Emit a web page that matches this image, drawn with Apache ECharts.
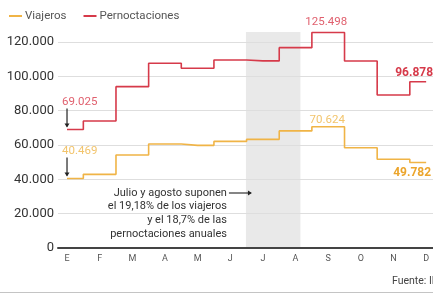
<!DOCTYPE html>
<html>
<head>
<meta charset="utf-8">
<script src="https://cdn.jsdelivr.net/npm/echarts@6/dist/echarts.min.js"></script>
<style>
html,body{margin:0;padding:0;background:#fff;}
#c{width:433px;height:294px;}
</style>
</head>
<body>
<div id="c"></div>
<script>
const months = ['E','F','M','A','M','J','J','A','S','O','N','D'];
const viajeros = [40469, 42900, 54200, 60600, 59800, 62100, 63300, 68200, 70624, 58400, 51700, 49782];
const pernoctaciones = [69025, 74000, 94000, 107600, 104700, 109500, 109000, 116700, 125498, 108900, 89100, 96878];
const yTicks = [0, 20000, 40000, 60000, 80000, 100000, 120000];
const bandStart = 5.48, bandEnd = 7.15, bandTop = 125800;
const annotation = ['Julio y agosto suponen', 'el 19,18% de los viajeros', 'y el 18,7% de las', 'pernoctaciones anuales'];

const RED = '#d63a4a', RED_L = '#e0606e';
const YEL = '#f0b446', YEL_L = '#f2c46c', YEL_B = '#eca52c';
const FONT = 'Roboto, "Open Sans", sans-serif';

function fmt(v){ return String(v).replace(/\B(?=(\d{3})+(?!\d))/g, '.'); }

const chart = echarts.init(document.getElementById('c'), null, {renderer:'canvas'});
const option = {
  animation: false,
  textStyle: {fontFamily: FONT},
  legend: {
    left: 4, top: 5, itemWidth: 13, itemHeight: 2, itemGap: 17, icon: 'rect',
    textStyle: {fontSize: 11.5, color: '#555', fontFamily: FONT, padding: [0,0,0,-2]},
    data: ['Viajeros', 'Pernoctaciones']
  },
  grid: {left: 58, right: 0, top: 42, bottom: 46},
  xAxis: {
    type: 'value', min: -0.276, max: 11.21,
    axisLine: {show: true, onZero: true, lineStyle: {color: '#444', width: 2}},
    axisTick: {show: false},
    splitLine: {show: false},
    axisLabel: {
      customValues: months.map((m,i)=>i),
      formatter: v => months[Math.round(v)],
      fontSize: 9, color: '#555', margin: 6, fontFamily: FONT
    }
  },
  yAxis: {
    type: 'value', min: yTicks[0], max: yTicks[yTicks.length-1], interval: yTicks[1]-yTicks[0],
    axisLine: {show: false}, axisTick: {show: false},
    splitLine: {lineStyle: {color: '#dedede', width: 1}},
    axisLabel: {formatter: v => fmt(v), fontSize: 13, color: '#333', margin: 4, fontFamily: FONT}
  },
  series: [
    {
      name: 'Viajeros', type: 'line', step: 'middle', clip: false, showSymbol: false, symbol: 'none',
      color: YEL, lineStyle: {width: 1.6, color: YEL}, z: 3,
      data: viajeros.map((v,i)=>[i, v])
    },
    {
      name: 'Pernoctaciones', type: 'line', step: 'middle', clip: false, showSymbol: false, symbol: 'none',
      color: RED, lineStyle: {width: 1.6, color: RED}, z: 3,
      data: pernoctaciones.map((v,i)=>[i, v])
    }
  ]
};
chart.setOption(option);

function px(i, v){ return chart.convertToPixel({gridIndex: 0}, [i, v]); }
const last = months.length - 1;
let imax = 0; viajeros.forEach((v,i)=>{ if (v > viajeros[imax]) imax = i; });
let pmax = 0; pernoctaciones.forEach((v,i)=>{ if (v > pernoctaciones[pmax]) pmax = i; });

const pR0 = px(0, pernoctaciones[0]);
const pY0 = px(0, viajeros[0]);
const pRM = px(pmax, pernoctaciones[pmax]);
const pYM = px(imax, viajeros[imax]);
const pRL = px(last, pernoctaciones[last]);
const pYL = px(last, viajeros[last]);
const bandL = px(bandStart, 0);
const bandR = px(bandEnd, bandTop);

function arrowDown(x, y1, y2){
  return [
    {type:'line', shape:{x1:x, y1:y1, x2:x, y2:y2-1}, style:{stroke:'#222', lineWidth:1.2}, z:10},
    {type:'polygon', shape:{points:[[x-2.5,y2-4],[x+2.5,y2-4],[x,y2]]}, style:{fill:'#222'}, z:10}
  ];
}
function txt(x, y, text, color, align, weight, size){
  return {type:'text', x:x, y:y, z:10, style:{text:text, fill:color, align:align, verticalAlign:'middle',
    font: (weight||'normal') + ' ' + (size||11.5) + 'px ' + FONT}};
}

const graphics = [];
// shaded July-August band
graphics.push({type:'rect', z:-10, silent:true,
  shape:{x: bandL[0], y: bandR[1], width: bandR[0]-bandL[0], height: bandL[1]-bandR[1]},
  style:{fill:'rgba(0,0,0,0.085)'}});
graphics.push(txt(pR0[0]-5, pR0[1]-27, fmt(pernoctaciones[0]), RED_L, 'left'));
graphics.push(...arrowDown(pR0[0], pR0[1]-21, pR0[1]-2));
graphics.push(txt(pY0[0]-5, pY0[1]-27.5, fmt(viajeros[0]), YEL_L, 'left'));
graphics.push(...arrowDown(pY0[0], pY0[1]-21, pY0[1]-2));
graphics.push(txt(pRM[0]-2, pRM[1]-10, fmt(pernoctaciones[pmax]), RED_L, 'center'));
graphics.push(txt(pYM[0]-1, pYM[1]-7, fmt(viajeros[imax]), YEL_L, 'center'));
graphics.push(txt(pRL[0]-31, pRL[1]-9, fmt(pernoctaciones[last]), RED, 'left', 'bold', 12));
graphics.push(txt(pYL[0]+5, pYL[1]+10, fmt(viajeros[last]), YEL_B, 'right', 'bold', 12));
// annotation
graphics.push({type:'text', x: bandL[0]-19, y: 186, z:10,
  style:{text: annotation.join('\n'), fill:'#333', align:'right', verticalAlign:'top', lineHeight: 13.7,
    font: 'normal 11px ' + FONT}});
graphics.push({type:'line', shape:{x1:bandL[0]-17, y1:193, x2:bandL[0]+5, y2:193}, style:{stroke:'#222', lineWidth:1.1}, z:10});
graphics.push({type:'polygon', shape:{points:[[bandL[0]+2,190.5],[bandL[0]+2,195.5],[bandL[0]+6,193]]}, style:{fill:'#222'}, z:10});
// source and bottom rule
graphics.push({type:'text', x: 392, y: 281, z:10, style:{text:'Fuente: INE', fill:'#444', align:'left', verticalAlign:'middle', font:'normal 10.5px ' + FONT}});
graphics.push({type:'line', shape:{x1:0, y1:292.5, x2:433, y2:292.5}, style:{stroke:'#c4c4c4', lineWidth:1}, z:10});

chart.setOption({graphic: {elements: graphics, z: 0}});
</script>
</body>
</html>
